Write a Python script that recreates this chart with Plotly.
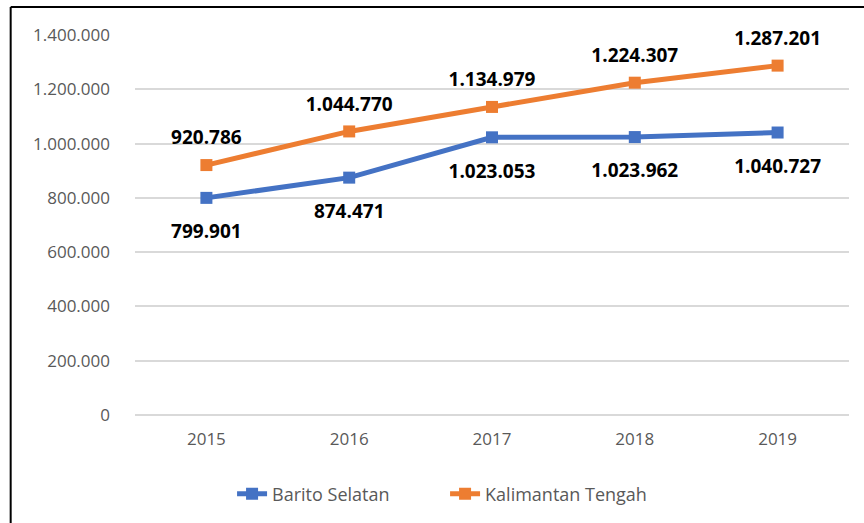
import plotly.graph_objects as go

years = ["2015", "2016", "2017", "2018", "2019"]
barito = [799901, 874471, 1023053, 1023962, 1040727]
kalteng = [920786, 1044770, 1134979, 1224307, 1287201]
y_ticks = [0, 200000, 400000, 600000, 800000, 1000000, 1200000, 1400000]

BLUE = "#4472C4"
ORANGE = "#ED7D31"
FONT = "Open Sans"
GRAY = "#595959"


def fmt(v):
    return f"{v:,}".replace(",", ".")


fig = go.Figure()
fig.add_trace(go.Scatter(
    x=years, y=barito, name="Barito Selatan", mode="lines+markers",
    line=dict(color=BLUE, width=5), marker=dict(symbol="square", size=12, color=BLUE),
))
fig.add_trace(go.Scatter(
    x=years, y=kalteng, name="Kalimantan Tengah", mode="lines+markers",
    line=dict(color=ORANGE, width=5), marker=dict(symbol="square", size=12, color=ORANGE),
))
# data labels (invisible markers used to offset text from points)
fig.add_trace(go.Scatter(
    x=years, y=barito, mode="markers+text", showlegend=False, hoverinfo="skip",
    marker=dict(size=40, color="rgba(0,0,0,0)"),
    text=["<b>" + fmt(v) + "</b>" for v in barito], textposition="bottom center",
    textfont=dict(family=FONT, size=19, color="#000000"), cliponaxis=False,
))
fig.add_trace(go.Scatter(
    x=years, y=kalteng, mode="markers+text", showlegend=False, hoverinfo="skip",
    marker=dict(size=24, color="rgba(0,0,0,0)"),
    text=["<b>" + fmt(v) + "</b>" for v in kalteng], textposition="top center",
    textfont=dict(family=FONT, size=19, color="#000000"), cliponaxis=False,
))

L, R = 134.5, 849.5
T, B = 35, 416
W, H = 864, 523


def px_x(p):
    return (p - L) / (R - L)


def px_y(p):
    return (B - p) / (B - T)


fig.update_layout(
    width=W, height=H,
    margin=dict(l=L, r=W - R, t=T, b=H - B),
    paper_bgcolor="white", plot_bgcolor="white",
    separators=",.",
    font=dict(family=FONT, color=GRAY, size=17),
    xaxis=dict(type="category", showgrid=False, showline=False, ticks="",
               tickfont=dict(size=17, color=GRAY), range=[-0.5, 4.5],
               ticklabelstandoff=12),
    yaxis=dict(range=[0, 1400000], tickvals=y_ticks, tickformat=",d",
               showgrid=True, gridcolor="#D9D9D9", gridwidth=1.5,
               zeroline=True, zerolinecolor="#D9D9D9", zerolinewidth=1.5,
               showline=False, ticks="", ticklabelstandoff=24,
               tickfont=dict(size=17, color=GRAY)),
    legend=dict(orientation="h", x=px_x(445), xanchor="center", y=px_y(494), yanchor="middle",
                font=dict(size=18, color=GRAY), bgcolor="rgba(0,0,0,0)",
                entrywidth=168, entrywidthmode="pixels"),
    showlegend=True,
    shapes=[
        dict(type="line", xref="paper", yref="paper", x0=px_x(10), x1=px_x(870),
             y0=px_y(7), y1=px_y(7), line=dict(color="black", width=2)),
        dict(type="line", xref="paper", yref="paper", x0=px_x(10), x1=px_x(10),
             y0=px_y(7), y1=px_y(530), line=dict(color="black", width=2)),
    ],
)

fig.write_html("out.html", config={"displayModeBar": False},
               post_script="document.body.style.margin='0px';document.body.style.padding='0px';")
